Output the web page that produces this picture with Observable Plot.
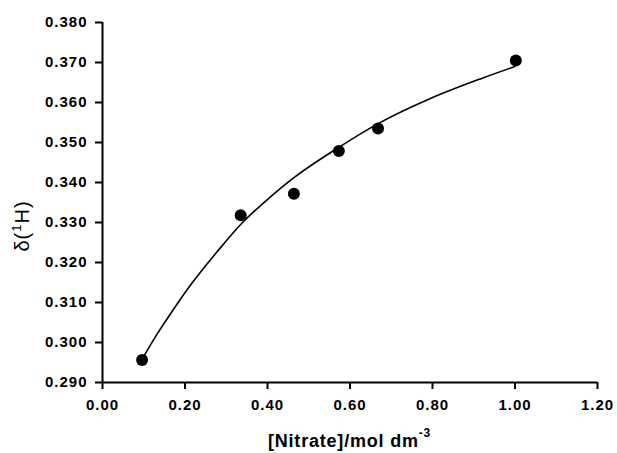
<!DOCTYPE html>
<html><head><meta charset="utf-8">
<script src="https://cdn.jsdelivr.net/npm/d3@7"></script>
<script src="https://cdn.jsdelivr.net/npm/@observablehq/plot@0.6"></script>
<style>body{margin:0;background:#fff}</style>
</head><body><div id="chart"></div>
<script>
// measured points
const nitrate = [0.096, 0.335, 0.464, 0.573, 0.668, 1.002];
const shift = [0.2956, 0.3318, 0.3372, 0.3479, 0.3535, 0.3705];
// fitted curve
const fitX = [0.096, 0.130, 0.165, 0.213, 0.278, 0.335, 0.407, 0.464, 0.573, 0.666, 0.795, 0.916, 1.0];
const fitY = [0.2958, 0.3017, 0.3072, 0.3143, 0.3227, 0.3295, 0.3364, 0.3412, 0.3488, 0.3546, 0.3610, 0.3659, 0.3690];
// ticks
const xTicks = [0, 0.2, 0.4, 0.6, 0.8, 1.0, 1.2];
const yTicks = [0.29, 0.30, 0.31, 0.32, 0.33, 0.34, 0.35, 0.36, 0.37, 0.38];

const points = nitrate.map((x, i) => ({x, y: shift[i]}));
const fit = fitX.map((x, i) => ({x, y: fitY[i]}));

const chart = Plot.plot({
  width: 617,
  height: 453,
  marginLeft: 102,
  marginRight: 20,
  marginTop: 22,
  marginBottom: 71,
  style: {fontFamily: "'Liberation Sans', Arial, sans-serif", background: "#fff", color: "#000", letterSpacing: "1px"},
  x: {domain: [0, 1.2]},
  y: {domain: [0.29, 0.38]},
  marks: [
    Plot.axisX({ticks: xTicks, tickFormat: d3.format(".2f"), tickSize: 7, tickPadding: 10, strokeWidth: 2, fontSize: 15, fontWeight: "bold", label: null}),
    Plot.axisY({ticks: yTicks, tickFormat: d3.format(".3f"), tickSize: 7, tickPadding: 8, strokeWidth: 2, fontSize: 15, fontWeight: "bold", label: null}),
    Plot.ruleX([0], {strokeWidth: 2}),
    Plot.ruleY([0.29], {strokeWidth: 2}),
    Plot.line(fit, {x: "x", y: "y", curve: "monotone-x", strokeWidth: 1.6, stroke: "#000"}),
    Plot.dot(points, {x: "x", y: "y", r: 6, fill: "#000", stroke: "none"})
  ]
});

const svg = d3.select(chart);
// y axis label
const yl = svg.append("text")
  .attr("transform", "translate(29,226) rotate(-90)")
  .attr("text-anchor", "middle")
  .attr("font-size", 20)
  .style("fill", "#000")
  .style("letter-spacing", "1px");
yl.append("tspan").text("δ(");
yl.append("tspan").attr("font-size", 13).attr("dy", -8).text("1");
yl.append("tspan").attr("dy", 8).text("H)");
// x axis label
const xl = svg.append("text")
  .attr("x", 349.5)
  .attr("y", 447)
  .attr("text-anchor", "middle")
  .attr("font-size", 18)
  .attr("font-weight", "bold")
  .style("fill", "#000")
  .style("letter-spacing", "0.8px");
xl.append("tspan").text("[Nitrate]/mol dm");
xl.append("tspan").attr("font-size", 12).attr("dy", -10).text("-3");

document.getElementById("chart").append(chart);
</script>
</body></html>
